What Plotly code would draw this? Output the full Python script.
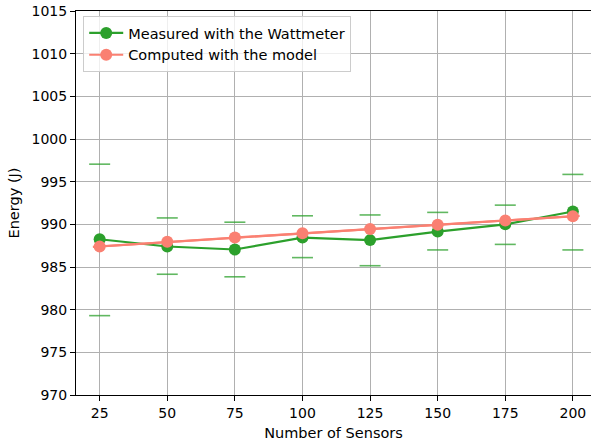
import plotly.graph_objects as go

sensors = [25, 50, 75, 100, 125, 150, 175, 200]
measured = [988.25, 987.4, 987.05, 988.45, 988.15, 989.15, 990.0, 991.5]
measured_high = [997.05, 990.75, 990.25, 991.0, 991.1, 991.4, 992.25, 995.85]
measured_low = [979.3, 984.15, 983.85, 986.1, 985.15, 987.0, 987.65, 987.0]
model = [987.4, 987.95, 988.45, 988.95, 989.45, 989.95, 990.45, 990.95]
model_line_x = [22.5, 202.5]
model_line_y = [987.35, 991.0]

y_ticks = [970, 975, 980, 985, 990, 995, 1000, 1005, 1010, 1015]
x_ticks = [25, 50, 75, 100, 125, 150, 175, 200]

GREEN = "#2ca02c"
SALMON = "#fa8072"
CAP = "rgba(44,160,44,0.75)"
FONT = "DejaVu Sans"

fig = go.Figure()

# error caps (upper and lower)
fig.add_trace(go.Scatter(
    x=sensors + sensors, y=measured_high + measured_low, mode="markers",
    marker=dict(symbol="line-ew", size=15, line=dict(color=CAP, width=1.6)),
    showlegend=False, hoverinfo="skip"))

fig.add_trace(go.Scatter(
    x=sensors, y=measured, mode="lines+markers", name="Measured with the Wattmeter",
    line=dict(color=GREEN, width=2.2),
    marker=dict(color=GREEN, size=12)))

fig.add_trace(go.Scatter(
    x=model_line_x, y=model_line_y, mode="lines",
    line=dict(color=SALMON, width=2.2), showlegend=False, hoverinfo="skip"))

fig.add_trace(go.Scatter(
    x=sensors, y=model, mode="lines+markers", name="Computed with the model",
    line=dict(color=SALMON, width=2.2),
    marker=dict(color=SALMON, size=12)))

axis_common = dict(
    showgrid=True, gridcolor="#b0b0b0", gridwidth=1.1,
    showline=True, linecolor="black", linewidth=1.1, mirror=True,
    ticks="outside", ticklen=5, tickwidth=1.1, tickcolor="black",
    zeroline=False, automargin=False,
    tickfont=dict(family=FONT, size=14, color="black"),
)

fig.update_xaxes(
    range=[16.25, 206.7], tickvals=x_ticks,
    title=dict(text="Number of Sensors", font=dict(family=FONT, size=14.5, color="black"), standoff=8),
    **axis_common)
fig.update_yaxes(
    range=[970, 1015], tickvals=y_ticks,
    title=dict(text="Energy (J)", font=dict(family=FONT, size=14.5, color="black"), standoff=8),
    **axis_common)

fig.update_layout(
    width=591, height=445,
    margin=dict(l=76, r=0, t=11, b=50, autoexpand=False),
    paper_bgcolor="white", plot_bgcolor="white",
    font=dict(family=FONT, size=14, color="black"),
    legend=dict(
        x=0.014, y=0.987, xanchor="left", yanchor="top",
        bgcolor="rgba(255,255,255,0.8)", bordercolor="#cccccc", borderwidth=1,
        font=dict(family=FONT, size=14.5, color="black"),
        itemwidth=34, tracegroupgap=0),
)

# remove the browser's default 8px body margin so the figure fills the window
fig.write_html(
    "out.html",
    config={"displayModeBar": False},
    post_script="document.body.style.margin='0px';document.body.style.overflow='hidden';",
)
